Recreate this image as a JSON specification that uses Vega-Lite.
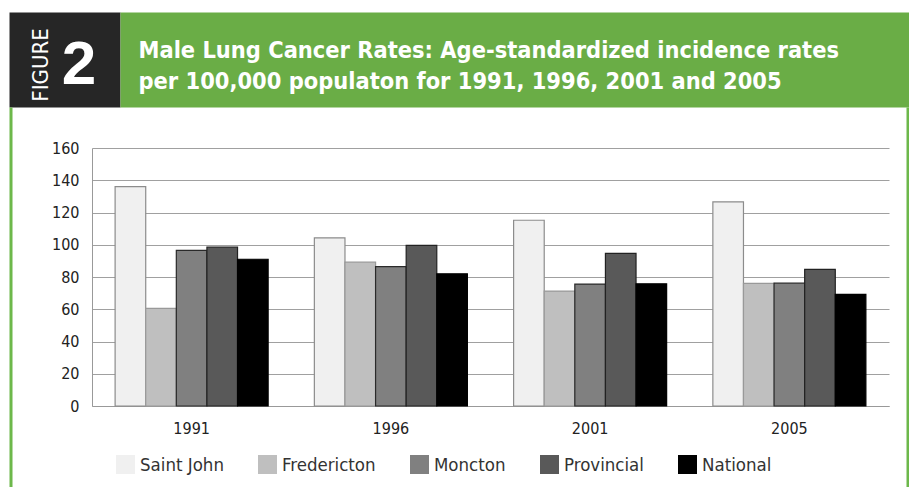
{
  "$schema": "https://vega.github.io/schema/vega-lite/v6.json",
  "background": "white",
  "autosize": {"type": "none"},
  "padding": {"left": 92, "top": 148, "right": 20, "bottom": 81},
  "width": 797,
  "height": 258,
  "config": {
    "view": {"stroke": null},
    "font": "DejaVu Sans Condensed, Liberation Sans, sans-serif"
  },
  "data": {
    "values": [
      {"year": "1991", "series": "Saint John", "rate": 136},
      {"year": "1991", "series": "Fredericton", "rate": 60.5},
      {"year": "1991", "series": "Moncton", "rate": 96.5},
      {"year": "1991", "series": "Provincial", "rate": 98.5},
      {"year": "1991", "series": "National", "rate": 91},
      {"year": "1996", "series": "Saint John", "rate": 104.3},
      {"year": "1996", "series": "Fredericton", "rate": 89.2},
      {"year": "1996", "series": "Moncton", "rate": 86.4},
      {"year": "1996", "series": "Provincial", "rate": 99.6},
      {"year": "1996", "series": "National", "rate": 82},
      {"year": "2001", "series": "Saint John", "rate": 115.2},
      {"year": "2001", "series": "Fredericton", "rate": 71.3},
      {"year": "2001", "series": "Moncton", "rate": 75.6},
      {"year": "2001", "series": "Provincial", "rate": 94.6},
      {"year": "2001", "series": "National", "rate": 75.8},
      {"year": "2005", "series": "Saint John", "rate": 126.6},
      {"year": "2005", "series": "Fredericton", "rate": 76},
      {"year": "2005", "series": "Moncton", "rate": 76.2},
      {"year": "2005", "series": "Provincial", "rate": 84.7},
      {"year": "2005", "series": "National", "rate": 69.2}
    ]
  },
  "layer": [
    {
      "mark": {"type": "bar", "strokeWidth": 1.2},
      "encoding": {
        "x": {
          "field": "year", "type": "nominal",
          "scale": {"paddingInner": 0.232, "paddingOuter": 0.116},
          "axis": {"orient": "bottom", "title": null, "labelAngle": 0, "domain": true, "domainColor": "#999999", "ticks": false, "tickSize": 0, "labelPadding": 14, "labelFontSize": 16, "labelColor": "#222222", "labelFont": "DejaVu Sans Condensed, Liberation Sans, sans-serif"}
        },
        "xOffset": {
          "field": "series", "type": "nominal",
          "sort": ["Saint John", "Fredericton", "Moncton", "Provincial", "National"],
          "scale": {"paddingInner": 0, "paddingOuter": 0}
        },
        "y": {
          "field": "rate", "type": "quantitative",
          "scale": {"domain": [0, 160]},
          "axis": {"orient": "left", "title": null, "values": [0, 20, 40, 60, 80, 100, 120, 140, 160], "domain": true, "domainColor": "#999999", "ticks": false, "tickSize": 0, "labelPadding": 13, "labelFontSize": 16, "labelColor": "#222222", "labelFont": "DejaVu Sans Condensed, Liberation Sans, sans-serif", "grid": true, "gridColor": "#a0a0a0", "gridWidth": 1}
        },
        "fill": {
          "field": "series", "type": "nominal",
          "sort": ["Saint John", "Fredericton", "Moncton", "Provincial", "National"],
          "scale": {"domain": ["Saint John", "Fredericton", "Moncton", "Provincial", "National"], "range": ["#f0f0f0", "#bfbfbf", "#808080", "#595959", "#000000"]},
          "legend": {"title": null, "orient": "none", "legendX": 24, "legendY": 307, "direction": "horizontal", "columns": 5, "columnPadding": 34, "symbolType": "square", "symbolSize": 361, "symbolStrokeWidth": 0, "labelOffset": 5, "labelFontSize": 18.5, "labelColor": "#333333", "labelFont": "DejaVu Sans Condensed, Liberation Sans, sans-serif"}
        },
        "stroke": {
          "field": "series", "type": "nominal",
          "scale": {"domain": ["Saint John", "Fredericton", "Moncton", "Provincial", "National"], "range": ["#8c8c8c", "#999999", "#2a2a2a", "#222222", "#000000"]},
          "legend": null
        }
      }
    },
    {
      "data": {"values": []},
      "mark": {"type": "rule"},
      "encoding": {
        "y": {"field": "a", "type": "quantitative", "scale": {"domain": [0, 1], "range": [-41, 345]},
          "axis": {"orient": "left", "offset": 81.5, "zindex": 3, "domain": true, "domainColor": "#6db84b", "domainWidth": 3, "labels": false, "ticks": false, "grid": false,
            "title": "2", "titleAngle": 0, "titleX": 68, "titleY": -65, "titleAlign": "center", "titleBaseline": "alphabetic", "titleFont": "Liberation Sans", "titleFontWeight": "bold", "titleFontSize": 62, "titleColor": "white"}}
      }
    },
    {
      "data": {"values": []},
      "mark": {"type": "rule"},
      "encoding": {
        "y": {"field": "b", "type": "quantitative", "scale": {"domain": [0, 1], "range": [-41, 345]},
          "axis": {"orient": "right", "offset": 18.5, "zindex": 3, "domain": true, "domainColor": "#6db84b", "domainWidth": 3, "labels": false, "ticks": false, "grid": false, "title": null}}
      }
    },
    {
      "data": {"values": []},
      "mark": {"type": "rule"},
      "encoding": {
        "x": {"field": "c", "type": "quantitative", "scale": {"domain": [0, 1], "range": [-83, 28]},
          "axis": {"orient": "top", "offset": 88.5, "zindex": 1, "domain": true, "domainColor": "#262626", "domainWidth": 95, "domainCap": "butt", "labels": false, "ticks": false, "grid": false,
            "title": "FIGURE", "titleAngle": 270, "titleX": -52, "titleY": 5, "titleAlign": "center", "titleBaseline": "middle", "titleFont": "DejaVu Sans Condensed, Liberation Sans, sans-serif", "titleFontWeight": "normal", "titleFontSize": 22, "titleColor": "white"}}
      }
    },
    {
      "data": {"values": []},
      "mark": {"type": "rule"},
      "encoding": {
        "x": {"field": "d", "type": "quantitative", "scale": {"domain": [0, 1], "range": [28, 817]},
          "axis": {"orient": "top", "offset": 88.5, "zindex": 1, "domain": true, "domainColor": "#6aad46", "domainWidth": 95, "domainCap": "butt", "labels": false, "ticks": false, "grid": false,
            "title": ["Male Lung Cancer Rates: Age-standardized incidence rates", "per 100,000 populaton for 1991, 1996, 2001 and 2005"], "titleAngle": 0, "titleX": 46, "titleY": -2.5, "titleAlign": "left", "titleBaseline": "alphabetic", "titleFont": "DejaVu Sans Condensed, Liberation Sans, sans-serif", "titleFontWeight": "bold", "titleFontSize": 23.4, "titleLineHeight": 31, "titleColor": "white"}}
      }
    }
  ],
  "resolve": {"scale": {"x": "independent", "y": "independent"}}
}
